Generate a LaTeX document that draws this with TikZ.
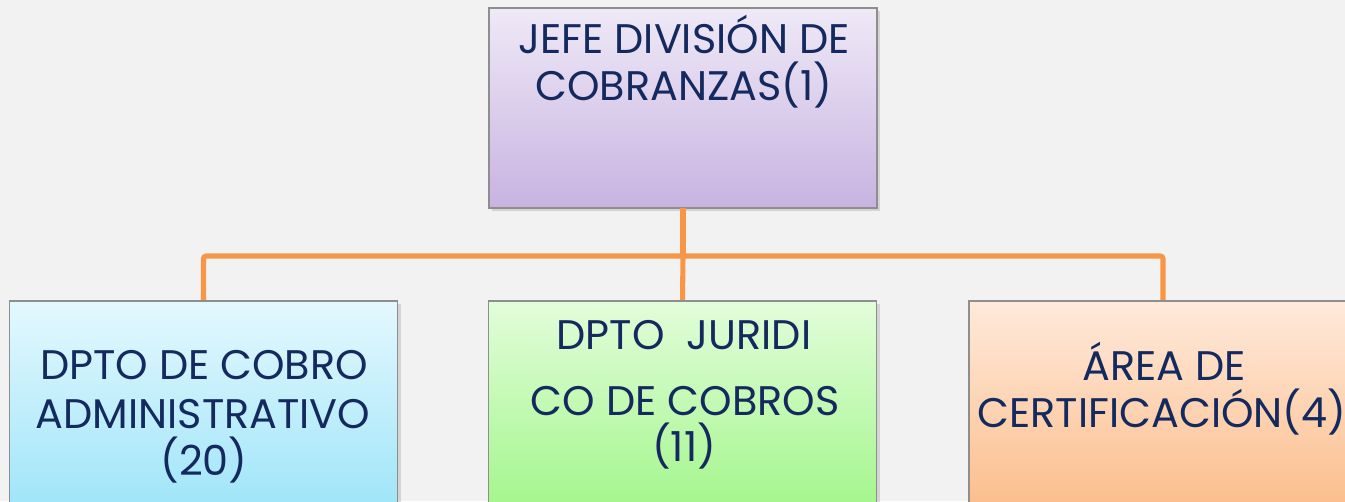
\documentclass[tikz,border=0pt]{standalone}
\usepackage{fontspec}
\setmainfont{Poppins}
\usetikzlibrary{positioning}
\definecolor{bg}{HTML}{F2F2F2}
\definecolor{navy}{HTML}{14295E}
\definecolor{conncol}{HTML}{F79646}
\definecolor{edge}{HTML}{8E8E8E}
\definecolor{purT}{HTML}{EFE9F7}
\definecolor{purB}{HTML}{C8B3E1}
\definecolor{bluT}{HTML}{E4F8FE}
\definecolor{bluB}{HTML}{9BE4F8}
\definecolor{grnT}{HTML}{E2FDDA}
\definecolor{grnB}{HTML}{A0F588}
\definecolor{orT}{HTML}{FFEADB}
\definecolor{orB}{HTML}{FBBB87}
\tikzset{
  px/.style={x=0.75pt,y=-0.75pt},
  orgbox/.style={draw=edge, line width=0.9pt, minimum width=291pt, inner sep=0pt, outer sep=0pt},
  shadowbox/.style={fill=black, opacity=0.12, draw=none, minimum width=291pt, inner sep=0pt},
  lbl/.style={text=navy, font=\fontsize{31}{37}\selectfont, anchor=base, inner sep=0pt},
  conn/.style={draw=conncol, line width=3.8pt, rounded corners=2pt}
}
\begin{document}
\begin{tikzpicture}[px]
\useasboundingbox (0,0) rectangle (1345,501);
\fill[bg] (0,0) rectangle (1345,501);
\clip (0,0) rectangle (1345,501);
% shadows
\node[shadowbox, minimum height=150pt] (s0) at (686,111) {};
\node[shadowbox, minimum height=165pt] (s1) at (206.5,414) {};
\node[shadowbox, minimum height=165pt] (s2) at (685.5,414) {};
\node[shadowbox, minimum height=165pt] (s3) at (1166,414) {};
% boxes
\node[orgbox, minimum height=150pt, top color=purT, bottom color=purB] (top) at (683,108) {};
\node[orgbox, minimum height=165pt, top color=bluT, bottom color=bluB] (b1) at (203.5,411) {};
\node[orgbox, minimum height=165pt, top color=grnT, bottom color=grnB] (b2) at (682.5,411) {};
\node[orgbox, minimum height=165pt, top color=orT, bottom color=orB] (b3) at (1163,411) {};
% connectors
\coordinate (j) at (683,256);
\draw[conn] (top.south) -- (j);
\draw[conn] (j) -- (b2.north);
\draw[conn] (j) -| (b1.north);
\draw[conn] (j) -| (b3.north);
\draw[draw=edge, line width=0.9pt] (b2.north west) -- (b2.north east);
\draw[draw=edge, line width=0.9pt] (b1.north west) -- (b1.north east);
\draw[draw=edge, line width=0.9pt] (b3.north west) -- (b3.north east);
% labels
\node[lbl] (t0a) at (684,53) {JEFE DIVISIÓN DE};
\node[lbl] (t0b) at (684,100) {COBRANZAS(1)};
\node[lbl] (t1a) at (204,379) {DPTO DE COBRO};
\node[lbl] (t1b) at (203,428) {ADMINISTRATIVO};
\node[lbl] (t1c) at (204,475) {(20)};
\node[lbl] (t2a) at (684,349) {DPTO\ \ JURIDI};
\node[lbl] (t2b) at (685,415) {CO DE COBROS};
\node[lbl] (t2c) at (684,461) {(11)};
\node[lbl] (t3a) at (1164,380) {ÁREA DE};
\node[lbl] (t3b) at (1162,427) {CERTIFICACIÓN(4)};
\end{tikzpicture}
\end{document}
